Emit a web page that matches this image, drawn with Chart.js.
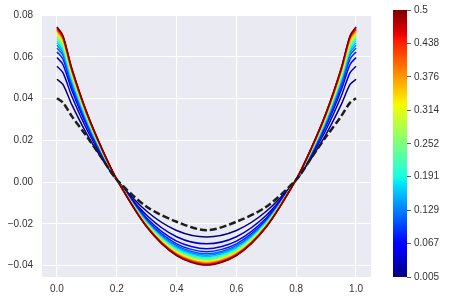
<!DOCTYPE html>
<html>
<head>
<meta charset="utf-8">
<script src="https://cdn.jsdelivr.net/npm/chart.js@4.4.0/dist/chart.umd.min.js"></script>
<style>
    html, body { margin: 0; padding: 0; background: #fff; }
    #wrap { position: relative; width: 449px; height: 299px; }
    #mainChart { position: absolute; left: 0; top: 0; }
    #barChart { position: absolute; left: 380px; top: 0; }
</style>
</head>
<body>
<div id="wrap">
    <canvas id="mainChart" width="449" height="299"></canvas>
    <canvas id="barChart" width="69" height="299"></canvas>
</div>
<script>
const xPos = [0, 0.02, 0.05, 0.1, 0.15, 0.2, 0.3, 0.4, 0.5, 0.6, 0.7, 0.8, 0.85, 0.9, 0.95, 0.98, 1.0];

// snapshot times (colour of each curve)
const times = [0.005, 0.031, 0.057, 0.083, 0.109, 0.135, 0.161, 0.187, 0.213, 0.240,
               0.266, 0.292, 0.318, 0.344, 0.370, 0.396, 0.422, 0.448, 0.474, 0.5];

const curve01 = [0.0493, 0.0468, 0.0370, 0.0230, 0.0113, 0.0010, -0.0140, -0.0232, -0.0263, -0.0232, -0.0140, 0.0010, 0.0113, 0.0230, 0.0370, 0.0468, 0.0493];
const curve02 = [0.0555, 0.0525, 0.0410, 0.0252, 0.0123, 0.0010, -0.0159, -0.0262, -0.0296, -0.0262, -0.0159, 0.0010, 0.0123, 0.0252, 0.0410, 0.0525, 0.0555];
const curve03 = [0.0597, 0.0564, 0.0439, 0.0269, 0.0131, 0.0011, -0.0172, -0.0283, -0.0319, -0.0283, -0.0172, 0.0011, 0.0131, 0.0269, 0.0439, 0.0564, 0.0597];
const curve04 = [0.0624, 0.0590, 0.0456, 0.0279, 0.0135, 0.0011, -0.0181, -0.0296, -0.0334, -0.0296, -0.0181, 0.0011, 0.0135, 0.0279, 0.0456, 0.0590, 0.0624];
const curve05 = [0.0643, 0.0608, 0.0470, 0.0288, 0.0140, 0.0011, -0.0186, -0.0305, -0.0344, -0.0305, -0.0186, 0.0011, 0.0140, 0.0288, 0.0470, 0.0608, 0.0643];
const curve06 = [0.0656, 0.0620, 0.0480, 0.0293, 0.0142, 0.0012, -0.0190, -0.0311, -0.0351, -0.0311, -0.0190, 0.0012, 0.0142, 0.0293, 0.0480, 0.0620, 0.0656];
const curve07 = [0.0668, 0.0631, 0.0489, 0.0299, 0.0145, 0.0012, -0.0193, -0.0316, -0.0357, -0.0316, -0.0193, 0.0012, 0.0145, 0.0299, 0.0489, 0.0631, 0.0668];
const curve08 = [0.0678, 0.0640, 0.0496, 0.0303, 0.0147, 0.0012, -0.0196, -0.0321, -0.0363, -0.0321, -0.0196, 0.0012, 0.0147, 0.0303, 0.0496, 0.0640, 0.0678];
const curve09 = [0.0687, 0.0649, 0.0502, 0.0307, 0.0149, 0.0012, -0.0199, -0.0325, -0.0368, -0.0325, -0.0199, 0.0012, 0.0149, 0.0307, 0.0502, 0.0649, 0.0687];
const curve10 = [0.0695, 0.0656, 0.0508, 0.0311, 0.0151, 0.0012, -0.0201, -0.0329, -0.0372, -0.0329, -0.0201, 0.0012, 0.0151, 0.0311, 0.0508, 0.0656, 0.0695];
const curve11 = [0.0702, 0.0663, 0.0513, 0.0314, 0.0152, 0.0012, -0.0203, -0.0332, -0.0376, -0.0332, -0.0203, 0.0012, 0.0152, 0.0314, 0.0513, 0.0663, 0.0702];
const curve12 = [0.0708, 0.0669, 0.0518, 0.0317, 0.0154, 0.0012, -0.0205, -0.0335, -0.0379, -0.0335, -0.0205, 0.0012, 0.0154, 0.0317, 0.0518, 0.0669, 0.0708];
const curve13 = [0.0714, 0.0674, 0.0522, 0.0319, 0.0155, 0.0013, -0.0207, -0.0338, -0.0382, -0.0338, -0.0207, 0.0013, 0.0155, 0.0319, 0.0522, 0.0674, 0.0714];
const curve14 = [0.0719, 0.0679, 0.0526, 0.0322, 0.0156, 0.0013, -0.0208, -0.0341, -0.0385, -0.0341, -0.0208, 0.0013, 0.0156, 0.0322, 0.0526, 0.0679, 0.0719];
const curve15 = [0.0724, 0.0684, 0.0530, 0.0324, 0.0157, 0.0013, -0.0210, -0.0343, -0.0387, -0.0343, -0.0210, 0.0013, 0.0157, 0.0324, 0.0530, 0.0684, 0.0724];
const curve16 = [0.0729, 0.0688, 0.0533, 0.0326, 0.0158, 0.0013, -0.0211, -0.0345, -0.0390, -0.0345, -0.0211, 0.0013, 0.0158, 0.0326, 0.0533, 0.0688, 0.0729];
const curve17 = [0.0733, 0.0692, 0.0536, 0.0328, 0.0159, 0.0013, -0.0212, -0.0347, -0.0392, -0.0347, -0.0212, 0.0013, 0.0159, 0.0328, 0.0536, 0.0692, 0.0733];
const curve18 = [0.0737, 0.0696, 0.0539, 0.0330, 0.0160, 0.0013, -0.0213, -0.0349, -0.0394, -0.0349, -0.0213, 0.0013, 0.0160, 0.0330, 0.0539, 0.0696, 0.0737];
const curve19 = [0.0741, 0.0699, 0.0542, 0.0332, 0.0161, 0.0013, -0.0214, -0.0351, -0.0396, -0.0351, -0.0214, 0.0013, 0.0161, 0.0332, 0.0542, 0.0699, 0.0741];
const curve20 = [0.0744, 0.0702, 0.0544, 0.0333, 0.0162, 0.0013, -0.0215, -0.0352, -0.0398, -0.0352, -0.0215, 0.0013, 0.0162, 0.0333, 0.0544, 0.0702, 0.0744];

// black dashed reference curve
const dashedRef = [0.0402, 0.0381, 0.0315, 0.0218, 0.0115, 0.0012, -0.0118, -0.0190, -0.0231, -0.0190, -0.0118, 0.0012, 0.0115, 0.0218, 0.0315, 0.0381, 0.0402];

const xTicks = [0, 0.2, 0.4, 0.6, 0.8, 1.0];
const yTicks = [-0.04, -0.02, 0, 0.02, 0.04, 0.06, 0.08];
const cbTicks = [0.005, 0.067, 0.129, 0.191, 0.252, 0.314, 0.376, 0.438, 0.5];

const curves = [curve01, curve02, curve03, curve04, curve05, curve06, curve07, curve08, curve09, curve10,
                curve11, curve12, curve13, curve14, curve15, curve16, curve17, curve18, curve19, curve20];

const FONT = '"Liberation Sans", Arial, sans-serif';
const TEXT = '#333333';
const tMin = times[0];
const tMax = times[times.length - 1];

// matplotlib "jet" colormap
function jet(v) {
    const clamp = z => Math.max(0, Math.min(1, z));
    const r = v < 0.35 ? 0 : v < 0.66 ? (v - 0.35) / 0.31 : v < 0.89 ? 1 : 1 - 0.5 * (v - 0.89) / 0.11;
    const g = v < 0.125 ? 0 : v < 0.375 ? (v - 0.125) / 0.25 : v < 0.64 ? 1 : v < 0.91 ? 1 - (v - 0.64) / 0.27 : 0;
    const b = v < 0.11 ? 0.5 + 0.5 * v / 0.11 : v < 0.34 ? 1 : v < 0.65 ? 1 - (v - 0.34) / 0.31 : 0;
    return 'rgb(' + Math.round(255 * clamp(r)) + ',' + Math.round(255 * clamp(g)) + ',' + Math.round(255 * clamp(b)) + ')';
}

function toPoints(ys) {
    return ys.map((y, i) => ({ x: xPos[i], y: y }));
}

function minusSign(v, digits) {
    return (v < 0 ? '\u2212' : '') + Math.abs(v).toFixed(digits);
}

const plotBg = {
    id: 'plotBg',
    beforeDraw(chart) {
        const a = chart.chartArea;
        const ctx = chart.ctx;
        ctx.save();
        ctx.fillStyle = '#EAEAF2';
        ctx.fillRect(a.left, a.top, a.right - a.left, a.bottom - a.top);
        ctx.restore();
    }
};

const datasets = curves.map((ys, i) => ({
    data: toPoints(ys),
    borderColor: jet((times[i] - tMin) / (tMax - tMin)),
    borderWidth: 1.5,
    pointRadius: 0,
    tension: 0.3,
    order: curves.length - i
}));
datasets.push({
    data: toPoints(dashedRef),
    borderColor: '#1e1e1e',
    borderWidth: 2.5,
    borderDash: [7, 3],
    pointRadius: 0,
    tension: 0.3,
    order: 0
});

new Chart(document.getElementById('mainChart'), {
    type: 'line',
    data: { datasets: datasets },
    plugins: [plotBg],
    options: {
        responsive: false,
        animation: false,
        layout: { padding: { left: 0, right: 78, top: 10, bottom: 0 } },
        plugins: {
            legend: { display: false },
            tooltip: { enabled: false }
        },
        scales: {
            x: {
                type: 'linear',
                min: -0.05,
                max: 1.05,
                afterBuildTicks: s => { s.ticks = xTicks.map(v => ({ value: v })); },
                afterFit: s => { s.height = 22; },
                grid: { color: '#ffffff', lineWidth: 1.1, drawTicks: false },
                border: { display: false },
                ticks: {
                    padding: 6,
                    color: TEXT,
                    font: { family: FONT, size: 10 },
                    maxRotation: 0,
                    callback: v => v.toFixed(1)
                }
            },
            y: {
                type: 'linear',
                min: -0.0455,
                max: 0.0801,
                afterBuildTicks: s => { s.ticks = yTicks.map(v => ({ value: v })); },
                afterFit: s => { s.width = 42; },
                grid: { color: '#ffffff', lineWidth: 1.1, drawTicks: false },
                border: { display: false },
                ticks: {
                    padding: 9,
                    color: TEXT,
                    font: { family: FONT, size: 10 },
                    callback: v => minusSign(v, 2)
                }
            }
        }
    }
});

// colour bar
const jetStops = [0, 0.11, 0.125, 0.34, 0.35, 0.375, 0.64, 0.65, 0.66, 0.89, 0.91, 1];

new Chart(document.getElementById('barChart'), {
    type: 'bar',
    data: {
        labels: ['t'],
        datasets: [{
            data: [[tMin, tMax]],
            borderWidth: 0,
            barPercentage: 1,
            categoryPercentage: 1,
            backgroundColor: function(context) {
                const chart = context.chart;
                const a = chart.chartArea;
                if (!a) return '#000080';
                const grad = chart.ctx.createLinearGradient(0, a.bottom, 0, a.top);
                jetStops.forEach(s => grad.addColorStop(s, jet(s)));
                return grad;
            }
        }]
    },
    options: {
        responsive: false,
        animation: false,
        layout: { padding: { left: 13, right: 0, top: 10, bottom: 22 } },
        plugins: {
            legend: { display: false },
            tooltip: { enabled: false }
        },
        scales: {
            x: { display: false },
            y: {
                position: 'right',
                min: tMin,
                max: tMax,
                afterBuildTicks: s => { s.ticks = cbTicks.map(v => ({ value: v })); },
                afterFit: s => { s.width = 42; },
                grid: { drawOnChartArea: false, drawTicks: true, tickLength: 4, color: '#333333', lineWidth: 0.8 },
                border: { display: false },
                ticks: {
                    padding: 3,
                    color: TEXT,
                    font: { family: FONT, size: 10 },
                    callback: v => String(v)
                }
            }
        }
    }
});
</script>
</body>
</html>
